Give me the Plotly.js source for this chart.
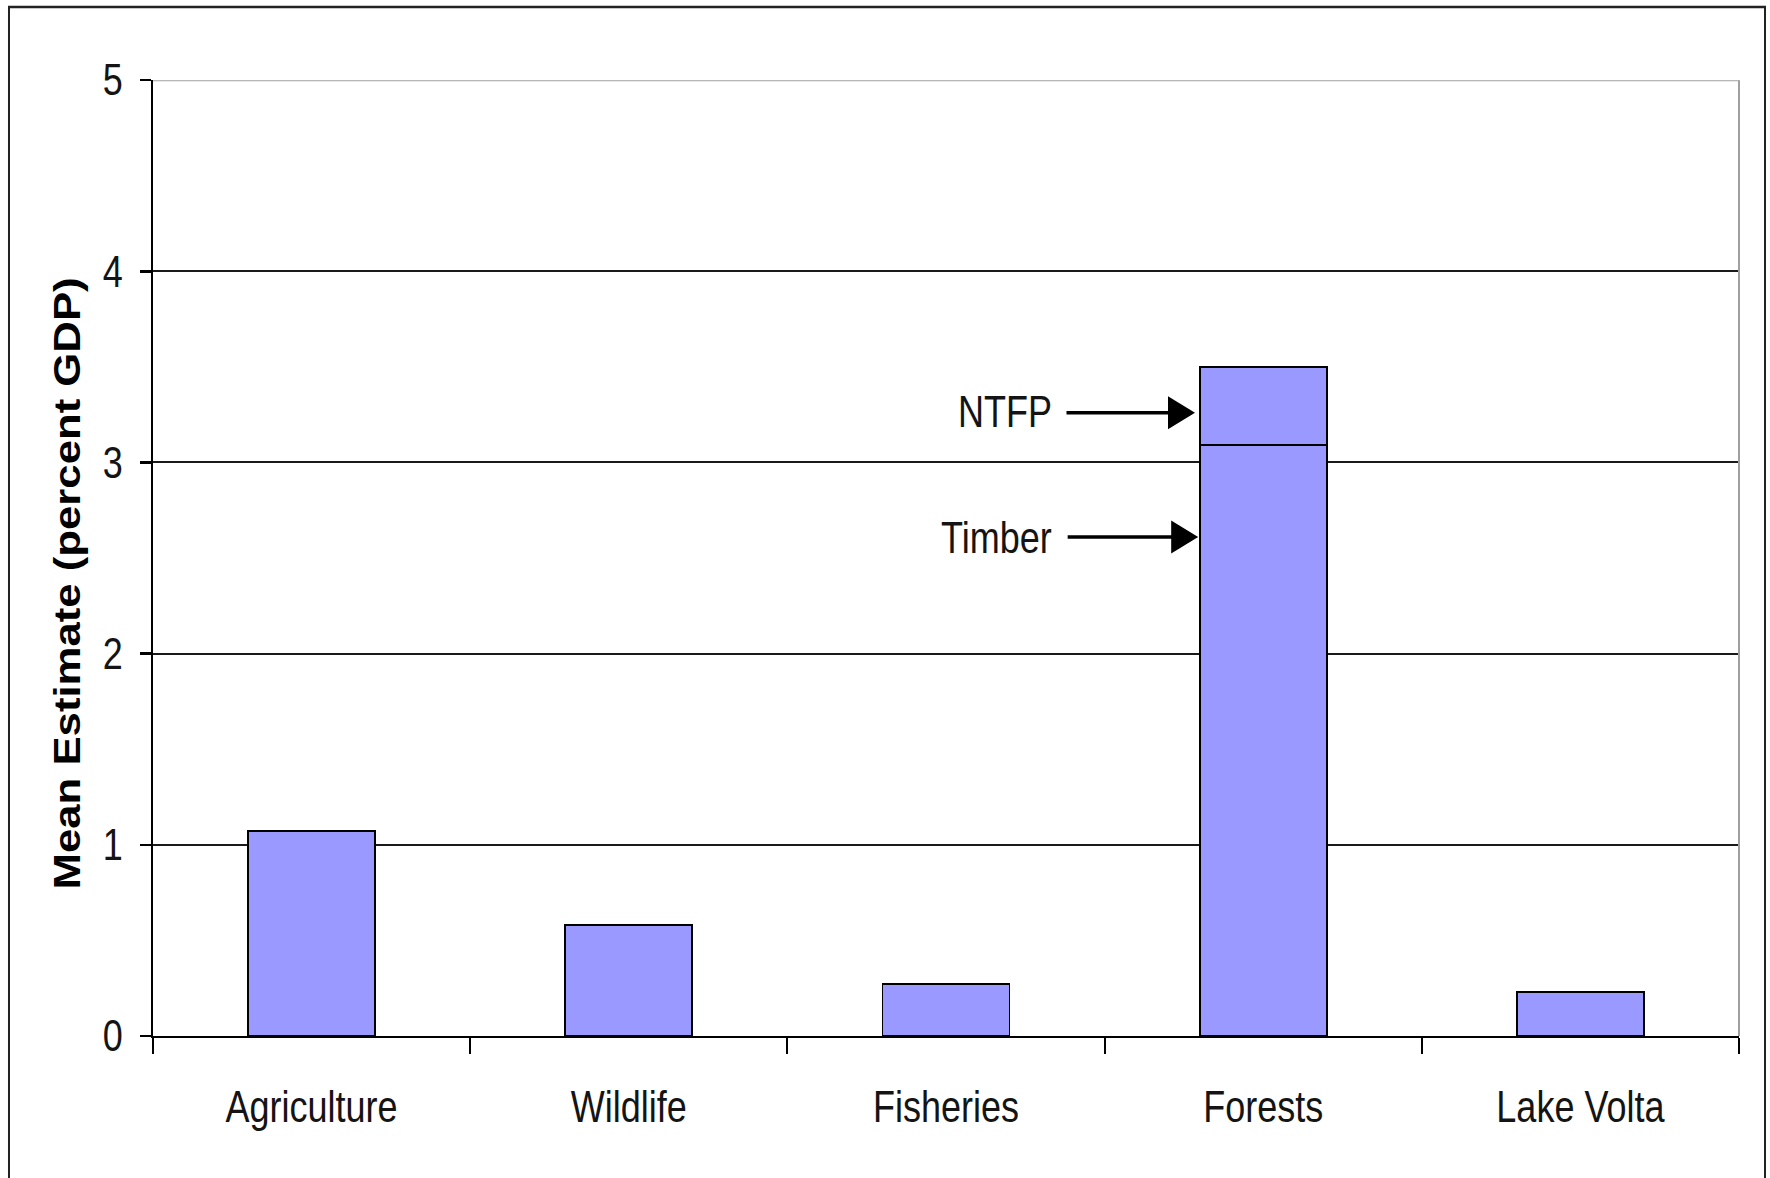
<!DOCTYPE html>
<html>
<head>
<meta charset="utf-8">
<script src="https://cdn.plot.ly/plotly-3.0.1.min.js"></script>
<style>
  html, body { margin: 0; padding: 0; background: #ffffff; width: 1770px; height: 1178px; }
  /* the chart is laid out at a shorter height and stretched vertically */
  #chart { width: 1770px; height: 970px; transform: scaleY(1.2144); transform-origin: 0 0; }
</style>
</head>
<body>
<div id="chart"></div>
<script>
// Mean estimate of each sector's contribution, percent of GDP
const sectors = ['Agriculture', 'Wildlife', 'Fisheries', 'Forests', 'Lake Volta'];
const baseEstimate = [1.07, 0.58, 0.27, 3.09, 0.23];   // Forests: timber part
const ntfpEstimate = [null, null, null, 0.41, null];   // Forests: non-timber forest products
const yTicks = [0, 1, 2, 3, 4, 5];

const barFill = '#9999ff';
const tickFont = { family: 'Liberation Sans, Arial, sans-serif', size: 36, color: '#141414' };

const traces = [
  {
    type: 'bar', name: 'Timber', x: sectors, y: baseEstimate,
    marker: { color: barFill, line: { color: '#000000', width: 1.8 } },
    hoverinfo: 'skip'
  },
  {
    type: 'bar', name: 'NTFP', x: sectors, y: ntfpEstimate,
    marker: { color: barFill, line: { color: '#000000', width: 1.8 } },
    hoverinfo: 'skip'
  }
];

const layout = {
  width: 1770, height: 970,
  margin: { l: 153, r: 31, t: 66, b: 117 },
  paper_bgcolor: '#ffffff', plot_bgcolor: '#ffffff',
  barmode: 'stack', bargap: 0.6,
  showlegend: false,
  font: tickFont,
  xaxis: {
    type: 'category',
    showgrid: false, zeroline: false,
    showline: true, linecolor: '#000000', linewidth: 2,
    ticks: 'outside', tickson: 'boundaries', ticklen: 13, tickwidth: 2, tickcolor: '#000000',
    tickfont: tickFont, ticklabelstandoff: 26
  },
  yaxis: {
    range: [0, 5], tickvals: yTicks, ticktext: yTicks.map(String),
    showgrid: true, gridcolor: '#1a1a1a', gridwidth: 1.6,
    zeroline: false,
    showline: true, linecolor: '#000000', linewidth: 2,
    ticks: 'outside', ticklen: 11, tickwidth: 2, tickcolor: '#000000',
    tickfont: tickFont, ticklabelstandoff: 10
  },
  shapes: [
    // plot frame: top and right edges in grey
    { type: 'line', xref: 'paper', yref: 'y', x0: 0, x1: 1, y0: 5, y1: 5,
      line: { color: '#a0a0a0', width: 2 }, layer: 'above' },
    { type: 'line', xref: 'paper', yref: 'paper', x0: 1, x1: 1, y0: 0, y1: 1,
      line: { color: '#a0a0a0', width: 2 }, layer: 'above' },
    // outer chart border
    { type: 'rect', xref: 'paper', yref: 'paper', x0: -0.0908, x1: 1.0164, y0: -0.3, y1: 1.0765,
      line: { color: '#222222', width: 2 }, fillcolor: 'rgba(0,0,0,0)', layer: 'below' }
  ],
  annotations: [
    { xref: 'paper', yref: 'paper', x: -0.0681, y: 0.474, textangle: -90,
      text: 'Mean Estimate (percent GDP)', showarrow: false,
      font: { family: 'Liberation Sans, Arial, sans-serif', size: 36, color: '#000000', weight: 'bold' } },
    { xref: 'x', yref: 'y', x: 2.34, y: 3.26, xanchor: 'right', yanchor: 'middle',
      text: 'NTFP', showarrow: false, font: tickFont },
    { xref: 'x', yref: 'y', x: 2.34, y: 2.61, xanchor: 'right', yanchor: 'middle',
      text: 'Timber', showarrow: false, font: tickFont },
    { xref: 'x', yref: 'y', x: 2.785, y: 3.26, text: '', showarrow: true,
      axref: 'pixel', ayref: 'pixel', ax: -130, ay: 0,
      arrowhead: 2, arrowsize: 1.8, arrowwidth: 3, arrowcolor: '#000000' },
    { xref: 'x', yref: 'y', x: 2.795, y: 2.61, text: '', showarrow: true,
      axref: 'pixel', ayref: 'pixel', ax: -132, ay: 0,
      arrowhead: 2, arrowsize: 1.8, arrowwidth: 3, arrowcolor: '#000000' }
  ]
};

Plotly.newPlot('chart', traces, layout, { staticPlot: true, displayModeBar: false });
</script>
</body>
</html>
